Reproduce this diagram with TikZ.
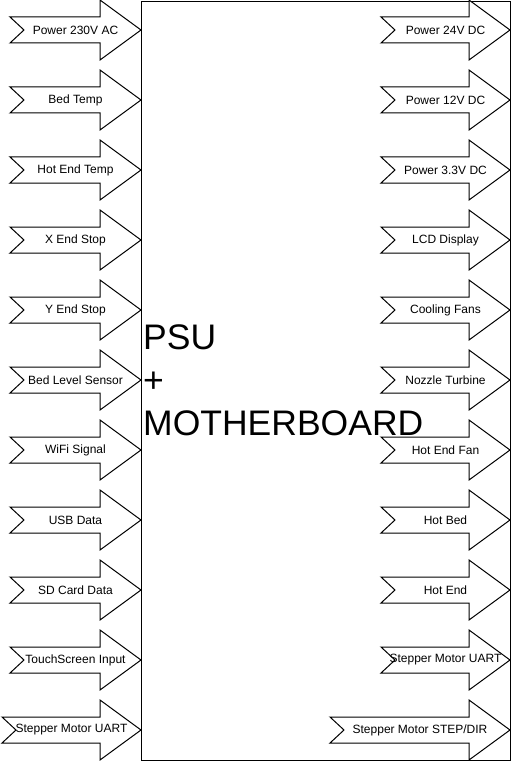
\documentclass[tikz,border=0pt]{standalone}
\usepackage{fontspec}
\setmainfont{Liberation Sans}
\tikzset{
  sig/.style={draw=black, fill=white, line width=1pt, line join=miter},
  lbl/.style={font=\fontsize{12}{14}\selectfont, inner sep=0pt},
  bigtxt/.style={font=\fontsize{35.5}{42}\selectfont, inner sep=0pt, anchor=base west},
  board/.style={draw=black, line width=1pt, inner sep=0pt, anchor=north west}
}
\newcommand\sigarrow[5]{%
  \draw[sig] (#2,#4-13) -- (#3-41,#4-13) -- (#3-41,#4-30) -- (#3,#4) -- (#3-41,#4+30) -- (#3-41,#4+13) -- (#2,#4+13) -- (#2+14,#4) -- cycle;
  \node[lbl] (#1) at ({(#2+#3)/2},#4) {#5};
}
\begin{document}
\begin{tikzpicture}[x=1pt,y=-1pt]
\useasboundingbox (0,0) rectangle (512,762);
\node[board, minimum width=369pt, minimum height=759pt] (mb) at (141,1) {};
\node[bigtxt] (t1) at (143,349) {PSU};
\node[bigtxt] (t2) at (143,392) {+};
\node[bigtxt] (t3) at (143,435) {MOTHERBOARD};
\foreach \L/\t [count=\i from 0] in {10/Power 230V AC, 10/Bed Temp, 10/Hot End Temp, 10/X End Stop, 10/Y End Stop, 10/Bed Level Sensor, 10/WiFi Signal, 10/USB Data, 10/SD Card Data, 10/TouchScreen Input, 2/Stepper Motor UART}{
  \pgfmathsetmacro\cy{30+70*\i}
  \sigarrow{l\i}{\L}{141}{\cy}{\t}
}
\foreach \L/\t [count=\i from 0] in {381/Power 24V DC, 381/Power 12V DC, 381/Power 3.3V DC, 381/LCD Display, 381/Cooling Fans, 381/Nozzle Turbine, 381/Hot End Fan, 381/Hot Bed, 381/Hot End, 381/Stepper Motor UART, 330/Stepper Motor STEP\slash DIR}{
  \pgfmathsetmacro\cy{30+70*\i}
  \sigarrow{r\i}{\L}{510}{\cy}{\t}
}
\end{tikzpicture}
\end{document}
